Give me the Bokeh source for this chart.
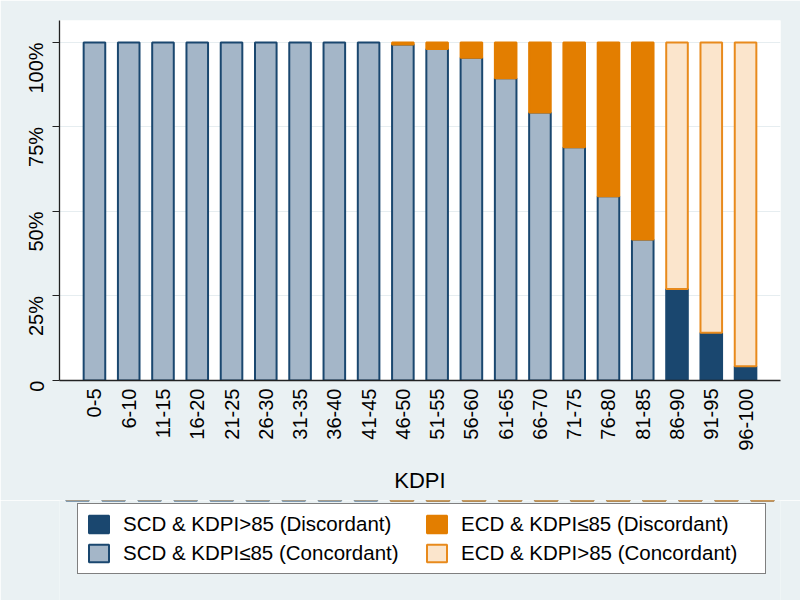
import math
from bokeh.plotting import figure
from bokeh.layouts import column
from bokeh.models import ColumnDataSource, FactorRange, Range1d, FixedTicker, Legend, LegendItem
from bokeh.embed import file_html
from bokeh.resources import INLINE

# ---- data (percent of each KDPI group) ----
categories = ["0-5", "6-10", "11-15", "16-20", "21-25", "26-30", "31-35", "36-40",
              "41-45", "46-50", "51-55", "56-60", "61-65", "66-70", "71-75", "76-80",
              "81-85", "86-90", "91-95", "96-100"]
scd_gt85_disc = [0, 0, 0, 0, 0, 0, 0, 0, 0, 0, 0, 0, 0, 0, 0, 0, 0, 27.1, 14.1, 4.2]
scd_le85_conc = [100, 100, 100, 100, 100, 100, 100, 100, 100, 99.4, 98.1, 95.5, 89.4,
                 79.3, 69.0, 54.5, 41.7, 0, 0, 0]
ecd_le85_disc = [0, 0, 0, 0, 0, 0, 0, 0, 0, 0.6, 1.9, 4.5, 10.6, 20.7, 31.0, 45.5, 58.3,
                 0, 0, 0]
ecd_gt85_conc = [0, 0, 0, 0, 0, 0, 0, 0, 0, 0, 0, 0, 0, 0, 0, 0, 0, 72.9, 85.9, 95.8]

labels = ["SCD & KDPI>85 (Discordant)", "SCD & KDPI\u226485 (Concordant)",
          "ECD & KDPI\u226485 (Discordant)", "ECD & KDPI>85 (Concordant)"]
y_ticks = [0, 25, 50, 75, 100]
y_tick_labels = ["0", "25%", "50%", "75%", "100%"]

# ---- styles ----
NAVY = "#1a476f"
GRAYBLUE = "#a4b6c8"
ORANGE = "#e37e00"
PEACH = "#fbe5cc"
PEACH_LINE = "#e88a1c"
BG = "#eaf1f3"
FONT = "Liberation Sans"
fills = [NAVY, GRAYBLUE, ORANGE, PEACH]
lines = [NAVY, NAVY, ORANGE, PEACH_LINE]

keys = ["scd_gt85", "scd_le85", "ecd_le85", "ecd_gt85"]
series = [scd_gt85_disc, scd_le85_conc, ecd_le85_disc, ecd_gt85_conc]
data = {"cat": categories}
for k, s in zip(keys, series):
    data[k] = s
    data[k + "_la"] = [1.0 if v > 0 else 0.0 for v in s]
source = ColumnDataSource(data)

p = figure(x_range=FactorRange(factors=categories, range_padding=0.52,
                               range_padding_units="absolute"),
           y_range=Range1d(0, 106.5),
           width=800, height=500,
           min_border_left=59, min_border_right=20, min_border_top=20,
           min_border_bottom=120,
           output_backend="svg", toolbar_location=None)

p.background_fill_color = "white"
p.border_fill_color = BG
p.outline_line_color = None

p.vbar_stack(keys, x="cat", width=0.63, source=source,
             fill_color=fills, line_color=lines,
             line_alpha=[k + "_la" for k in keys], line_width=2)

# axes
p.xgrid.grid_line_color = None
p.ygrid.grid_line_color = "#e6edf0"
p.ygrid.grid_line_width = 1
p.yaxis.ticker = FixedTicker(ticks=y_ticks)
p.yaxis.major_label_overrides = {t: l for t, l in zip(y_ticks, y_tick_labels)}
p.yaxis.major_label_orientation = math.pi / 2
p.yaxis.minor_tick_line_color = None
p.yaxis.major_tick_in = 0
p.yaxis.major_tick_out = 7
p.yaxis.major_label_standoff = 16
for ax in (p.xaxis[0], p.yaxis[0]):
    ax.axis_line_color = "#222222"
    ax.axis_line_width = 1.3
    ax.major_tick_line_color = "#222222"
    ax.major_label_text_font = FONT
    ax.major_label_text_font_size = "20px"
    ax.major_label_text_color = "black"

p.xaxis.major_label_orientation = math.pi / 2
p.xaxis.major_tick_out = 0
p.xaxis.major_tick_in = 0
p.xaxis.major_label_standoff = 8
p.xaxis.axis_label = "KDPI"
p.xaxis.axis_label_text_font = FONT
p.xaxis.axis_label_text_font_size = "22px"
p.xaxis.axis_label_text_font_style = "normal"
p.xaxis.axis_label_text_color = "black"
p.xaxis.axis_label_standoff = 14

# ---- legend strip: a second, axis-less figure below the chart ----
# The same stacked bars are drawn there with a y range that keeps them out of
# view (above the strip), so the legend swatches come from the real glyphs.
pl = figure(x_range=FactorRange(factors=categories), y_range=Range1d(-300, -200),
            width=800, height=100, x_axis_type=None, y_axis_type=None,
            min_border_left=0, min_border_right=0, min_border_top=0,
            min_border_bottom=0, output_backend="svg", toolbar_location=None)
pl.background_fill_color = BG
pl.border_fill_color = BG
pl.outline_line_color = None
pl.grid.grid_line_color = None
swatches = pl.vbar_stack(keys, x="cat", width=0.63, source=source,
                         fill_color=fills, line_color=lines,
                         line_alpha=[k + "_la" for k in keys], line_width=2)
sw = dict(zip(keys, swatches))
items = [
    LegendItem(label=labels[0], renderers=[sw["scd_gt85"]], index=17),
    LegendItem(label=labels[1], renderers=[sw["scd_le85"]], index=0),
    LegendItem(label=labels[2], renderers=[sw["ecd_le85"]], index=16),
    LegendItem(label=labels[3], renderers=[sw["ecd_gt85"]], index=17),
]
legend = Legend(items=items, orientation="vertical", nrows=2, location=(18, 26),
                border_line_color="black", border_line_width=1,
                background_fill_color="white", background_fill_alpha=1,
                label_text_font=FONT, label_text_font_size="20.5px",
                label_text_color="black",
                glyph_width=25, glyph_height=22, label_standoff=12,
                spacing=5, padding=8, label_width=296, margin=0)
pl.add_layout(legend, "center")

layout = column(p, pl)
html = file_html(layout, INLINE)
open("out.html", "w").write(html)
